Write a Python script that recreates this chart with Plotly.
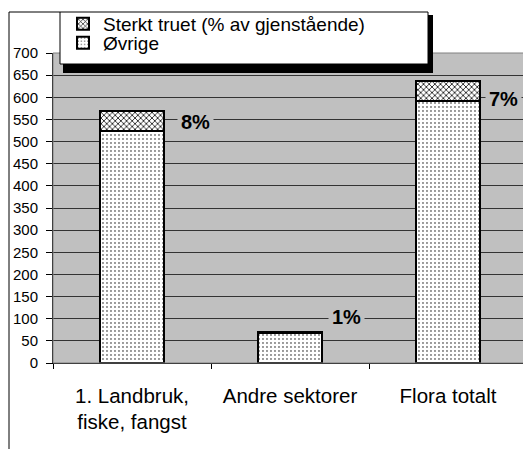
import plotly.graph_objects as go

# ---- data ----
categories = ["1. Landbruk,<br>fiske, fangst", "Andre sektorer", "Flora totalt"]
ovrige = [525, 68, 592]
sterkt_truet = [44, 1, 45]
pct_labels = ["8%", "1%", "7%"]
series_names = ["Sterkt truet (% av gjenstående)", "Øvrige"]

# page body adds an 8px margin: design in screen px, convert to figure px
OFF = 8
W, H = 531, 449
L = 53 - OFF
T = 53 - OFF
PW, PH = 474, 310
R = W - L - PW
B = H - T - PH

def px(x):
    return (x - OFF - L) / PW

def py(y):
    return (T + PH - (y - OFF)) / PH

def cx(x):
    return (x - OFF) / W

def cy(y):
    return 1 - (y - OFF) / H

FONT = "Arial, Liberation Sans, sans-serif"

fig = go.Figure()
fig.add_trace(go.Bar(
    x=categories, y=ovrige, name=series_names[1], width=0.4, legend="legend2",
    marker=dict(color="white",
                line=dict(color="black", width=2),
                pattern=dict(shape=".", size=4, solidity=0.1,
                             fgcolor="black", bgcolor="white", fillmode="replace")),
))
fig.add_trace(go.Bar(
    x=categories, y=sterkt_truet, name=series_names[0], width=0.4, legend="legend",
    marker=dict(color="white",
                line=dict(color="black", width=2),
                pattern=dict(shape="x", size=4, solidity=0.35,
                             fgcolor="black", bgcolor="white", fillmode="replace")),
))

# percent labels beside the threatened segment
offsets = [(0.40, -25), (1.36, 36), (2.35, -40)]
annotations = []
for i, (lab, (xo, dy)) in enumerate(zip(pct_labels, offsets)):
    total = ovrige[i] + sterkt_truet[i]
    annotations.append(dict(
        x=xo, y=total + dy, xref="x", yref="y", text=f"<b>{lab}</b>",
        showarrow=False, font=dict(family=FONT, size=20, color="black"),
        bgcolor="#c0c0c0", borderpad=3, xanchor="center", yanchor="middle"))

shapes = [
    # outer chart frame (left and top fragment)
    dict(type="line", xref="paper", yref="paper", x0=px(9), x1=px(9), y0=py(12), y1=py(460),
         line=dict(color="black", width=1)),
    dict(type="line", xref="paper", yref="paper", x0=px(9), x1=px(60), y0=py(12), y1=py(12),
         line=dict(color="black", width=1)),
    # plot area border
    dict(type="rect", xref="paper", yref="paper", x0=0, x1=1, y0=0, y1=1,
         line=dict(color="#808080", width=1), layer="above"),
    # legend shadow + box
    dict(type="rect", xref="paper", yref="paper", x0=px(63), x1=px(433), y0=py(15), y1=py(73),
         fillcolor="black", line=dict(width=0), layer="above"),
    dict(type="rect", xref="paper", yref="paper", x0=px(60), x1=px(428), y0=py(12), y1=py(64),
         fillcolor="white", line=dict(color="black", width=1), layer="above"),
]

legend_common = dict(xref="container", yref="container", xanchor="left", yanchor="middle",
                     bgcolor="rgba(0,0,0,0)", borderwidth=0, itemwidth=30,
                     font=dict(family=FONT, size=19, color="black"))

fig.update_layout(
    width=W, height=H, autosize=False,
    margin=dict(l=L, r=R, t=T, b=B, pad=0, autoexpand=False),
    paper_bgcolor="white", plot_bgcolor="#c0c0c0",
    barmode="stack", bargap=0.6,
    font=dict(family=FONT, color="black"),
    showlegend=True,
    legend=dict(x=cx(63), y=cy(24), **legend_common),
    legend2=dict(x=cx(63), y=cy(43), **legend_common),
    annotations=annotations,
    shapes=shapes,
)
fig.update_xaxes(
    automargin=False,
    showline=True, linecolor="black", linewidth=1,
    ticks="outside", tickson="boundaries", ticklen=5, tickcolor="black",
    tickfont=dict(family=FONT, size=20.5, color="black"),
    showgrid=False, ticklabelstandoff=14,
)
fig.update_yaxes(
    automargin=False,
    range=[0, 700], dtick=50, tick0=0,
    showline=True, linecolor="black", linewidth=1,
    ticks="outside", ticklen=6, tickcolor="black",
    tickfont=dict(family=FONT, size=15, color="black"),
    showgrid=True, gridcolor="#333333", gridwidth=1,
    zeroline=False, ticklabelstandoff=5,
)

fig.write_html("out.html")
